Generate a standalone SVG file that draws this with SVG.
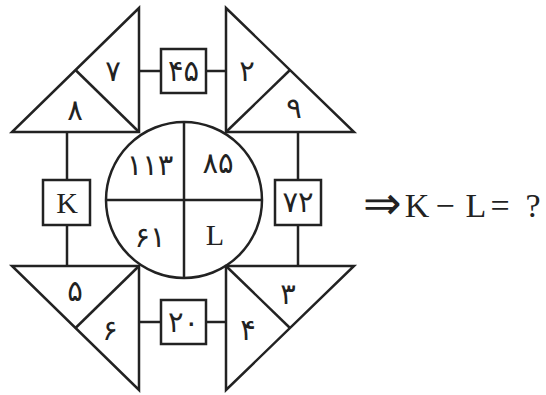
<svg xmlns="http://www.w3.org/2000/svg" width="546" height="395" viewBox="0 0 546 395">
<style>
.s{fill:none;stroke:#222;stroke-width:2.5;stroke-linejoin:miter}
.b{fill:#fff;stroke:#222;stroke-width:2.5}
.fa{font-family:"DejaVu Sans",sans-serif;font-size:29px;fill:#222;text-anchor:middle;dominant-baseline:central}
.la{font-family:"Liberation Serif",serif;font-size:30px;fill:#222;text-anchor:middle;dominant-baseline:central}
.q{font-family:"Liberation Serif",serif;font-size:34px;fill:#222;text-anchor:middle}
</style>
<rect width="546" height="395" fill="#fff"/>
<g id="connectors" class="s">
<line x1="139" y1="71" x2="161" y2="71"/>
<line x1="206" y1="71" x2="226" y2="71"/>
<line x1="139" y1="322" x2="161" y2="322"/>
<line x1="206" y1="322" x2="226" y2="322"/>
<line x1="67" y1="132" x2="67" y2="180"/>
<line x1="67" y1="225" x2="67" y2="266"/>
<line x1="298" y1="132" x2="298" y2="180"/>
<line x1="298" y1="225" x2="298" y2="266"/>
</g>
<g id="circle">
<circle class="s" cx="184" cy="200" r="78"/>
<line class="s" x1="106" y1="200" x2="262" y2="200"/>
<line class="s" x1="184" y1="122" x2="184" y2="278"/>
<text class="fa" x="150" y="165">۱۱۳</text>
<text class="fa" x="218" y="163">۸۵</text>
<text class="fa" x="150" y="237">۶۱</text>
<text class="la" x="215" y="234">L</text>
</g>
<g id="tri-top-left">
<polygon class="s" points="139,8 12,132 139,132"/>
<line class="s" x1="75.5" y1="70" x2="139" y2="132"/>
<text class="fa" x="113" y="71">۷</text>
<text class="fa" x="75" y="110">۸</text>
</g>
<g id="tri-top-right">
<polygon class="s" points="226,8 354,132 226,132"/>
<line class="s" x1="290" y1="70" x2="226" y2="132"/>
<text class="fa" x="247" y="71">۲</text>
<text class="fa" x="294" y="108">۹</text>
</g>
<g id="tri-bottom-left">
<polygon class="s" points="12,266 139,266 139,390"/>
<line class="s" x1="75.5" y1="328" x2="139" y2="266"/>
<text class="fa" x="75" y="291">۵</text>
<text class="fa" x="110" y="330">۶</text>
</g>
<g id="tri-bottom-right">
<polygon class="s" points="226,266 354,266 226,390"/>
<line class="s" x1="290" y1="328" x2="226" y2="266"/>
<text class="fa" x="288" y="294">۳</text>
<text class="fa" x="248" y="330">۴</text>
</g>
<g id="box-top">
<rect class="b" x="161" y="49" width="45" height="44"/>
<text class="fa" x="183.5" y="71">۴۵</text>
</g>
<g id="box-bottom">
<rect class="b" x="161" y="300" width="45" height="44"/>
<text class="fa" x="183.5" y="322">۲۰</text>
</g>
<g id="box-left">
<rect class="b" x="43" y="180" width="47" height="45"/>
<text class="la" x="67" y="202">K</text>
</g>
<g id="box-right">
<rect class="b" x="275" y="180" width="46" height="45"/>
<text class="fa" x="298" y="202">۷۲</text>
</g>
<g id="question">
<text class="q" x="382" y="219" style="font-size:46px">⇒</text>
<text class="q" x="417" y="217">K</text>
<text class="q" x="445" y="217">−</text>
<text class="q" x="476" y="217">L</text>
<text class="q" x="500" y="217">=</text>
<text class="q" x="533" y="217">?</text>
</g>
</svg>
